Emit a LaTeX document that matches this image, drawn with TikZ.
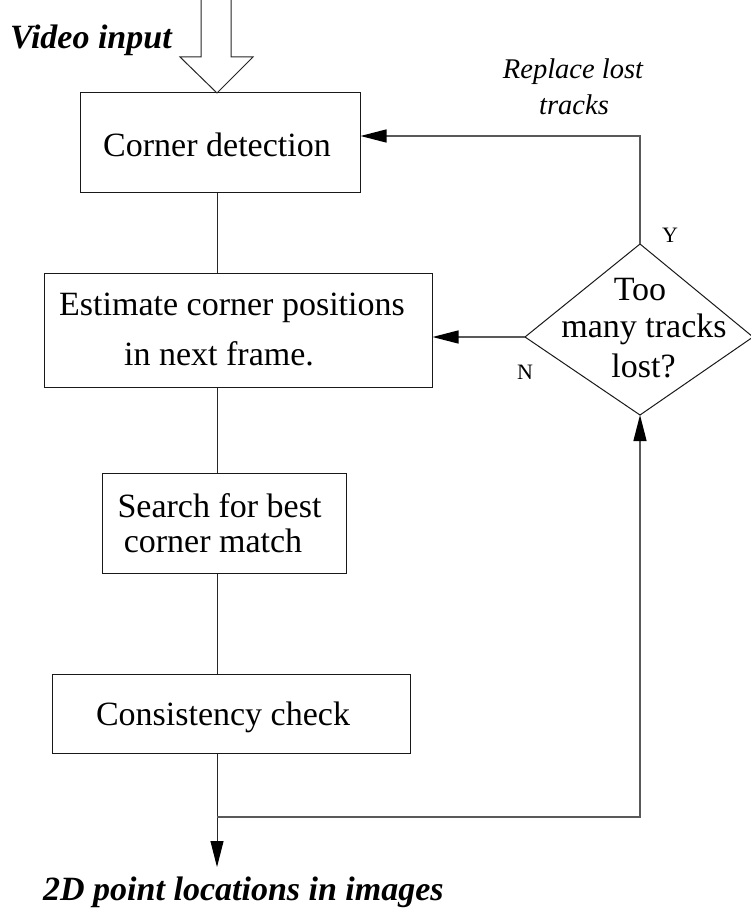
\documentclass[tikz,border=0pt]{standalone}
\usepackage{fontspec}
\setmainfont{Liberation Serif}
\usetikzlibrary{arrows.meta}
\begin{document}
\begin{tikzpicture}[x=1pt,y=-1pt,
  box/.style={draw=black!90, line width=1pt, inner sep=0pt},
  boxtext/.style={font=\fontsize{34}{40}\selectfont, anchor=base, inner sep=0pt},
  flow/.style={draw=black!85, line width=1pt},
  loopline/.style={draw=black!65, line width=1.3pt},
  tip/.style={-{Triangle[length=26pt,width=13pt,color=black]}},
  title/.style={font=\fontsize{34}{40}\selectfont\bfseries\itshape, anchor=base west, inner sep=0pt},
  note/.style={font=\fontsize{28.5}{34}\selectfont\itshape, anchor=base, inner sep=0pt},
  answer/.style={font=\fontsize{22}{26}\selectfont, anchor=base, inner sep=0pt}]

\path[fill=white, use as bounding box] (0,0) rectangle (751,909);

% process boxes
\node[box, minimum width=280pt, minimum height=100pt] (corner)   at (220,143)   {};
\node[box, minimum width=388pt, minimum height=114pt] (estimate) at (238,330)   {};
\node[box, minimum width=244pt, minimum height=100pt] (search)   at (224,523)   {};
\node[box, minimum width=358pt, minimum height=79pt]  (consist)  at (231,713.5) {};

% box captions
\node[boxtext] (cornerT) at (217,157)   {Corner detection};
\node[boxtext] (estT1)   at (232,315)   {Estimate corner positions};
\node[boxtext] (estT2)   at (219,365)   {in next frame.};
\node[boxtext] (srchT1)  at (219.5,517) {Search for best};
\node[boxtext] (srchT2)  at (213,552)   {corner match};
\node[boxtext] (consT)   at (223,725)   {Consistency check};

% decision diamond
\coordinate (dT) at (640,244);
\coordinate (dR) at (753,337);
\coordinate (dB) at (640,415);
\coordinate (dL) at (525,337);
\draw[box, line join=miter] (dT) -- (dR) -- (dB) -- (dL) -- cycle;
\node[boxtext] (decT1) at (640,300)   {Too};
\node[boxtext] (decT2) at (644,337)   {many tracks};
\node[boxtext] (decT3) at (643.5,377) {lost?};

% video input (hollow arrow)
\draw[flow, line join=miter] (201,0) -- (201,57) -- (180,57) -- (217,93)
  -- (253,57) -- (231,57) -- (231,0);
\node[title] (vin) at (10,49) {Video input};

% main chain
\coordinate (spine) at (217,0);
\draw[flow] (corner.south -| spine) -- (estimate.north -| spine);
\draw[flow] (estimate.south -| spine) -- (search.north -| spine);
\draw[flow] (search.south -| spine) -- (consist.north -| spine);
\coordinate (split) at (217,817);
\coordinate (outp)  at (217,867);
\draw[flow, tip] (consist.south -| spine) -- (outp);
\node[title] (pts) at (43,900.5) {2D point locations in images};

% feedback loop
\draw[loopline, tip] (split) -- (split -| dB) -- (dB);
\draw[loopline, tip] (dL) -- (dL -| estimate.east);
\coordinate (turn) at (640,136);
\draw[loopline, tip] (dT) -- (turn) -- (turn -| corner.east);

% branch labels
\node[answer] (ylab) at (670,243) {Y};
\node[answer] (nlab) at (525,379) {N};
\node[note] (repl1) at (573,79)  {Replace lost};
\node[note] (repl2) at (574,115) {tracks};
\end{tikzpicture}
\end{document}
